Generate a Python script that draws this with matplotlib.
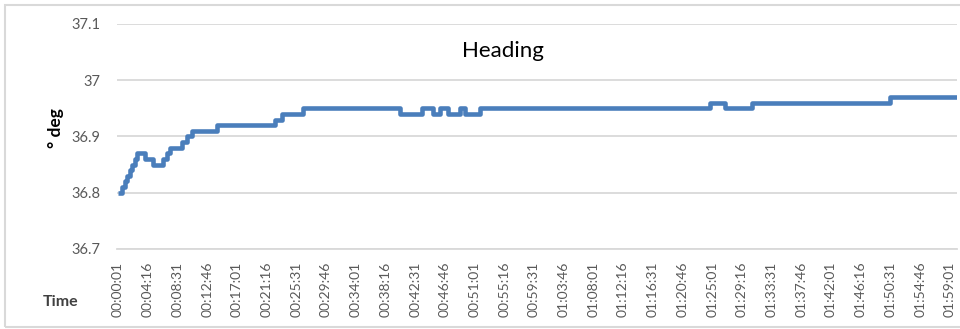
import matplotlib
matplotlib.use('Agg')
import matplotlib.pyplot as plt
from matplotlib.patches import Rectangle
import numpy as np

# change points of the heading reading: seconds since 00:00:01, value in deg
change_sec = [0, 34, 56, 77, 99, 120, 142, 163, 232, 300, 386, 421, 446, 549, 592,
              635, 850, 1347, 1408, 1588, 2420, 2609, 2704, 2764, 2832, 2935, 2978,
              3107, 5081, 5210, 5442, 6626, 7201]
heading = [36.80, 36.81, 36.82, 36.83, 36.84, 36.85, 36.86, 36.87, 36.86, 36.85, 36.86,
           36.87, 36.88, 36.89, 36.90, 36.91, 36.92, 36.93, 36.94, 36.95, 36.94, 36.95,
           36.94, 36.95, 36.94, 36.95, 36.94, 36.95, 36.96, 36.95, 36.96, 36.97, 36.97]

tick_step = 255  # one label every 4:15
tick_sec = list(range(0, 7141, tick_step))
tick_labels = []
for s in tick_sec:
    t = s + 1
    tick_labels.append(f"{t // 3600:02d}:{(t % 3600) // 60:02d}:{t % 60:02d}")

plt.rcParams['font.family'] = ['Lato', 'DejaVu Sans']

fig = plt.figure(figsize=(9.6, 3.29), dpi=100)
ax = fig.add_axes([117 / 960, 1 - 249 / 329, (957 - 117) / 960, (249 - 24) / 329])

ax.step(change_sec, heading, where='post', color='#4A7EBB', lw=3.3,
        solid_joinstyle='round', solid_capstyle='butt', zorder=3)

ax.set_ylim(36.7, 37.1)
ax.set_yticks([36.7, 36.8, 36.9, 37.0, 37.1])
ax.set_yticklabels(['36.7', '36.8', '36.9', '37', '37.1'])
ax.set_xlim(-9, 7201)
ax.set_xticks(tick_sec)
ax.set_xticklabels(tick_labels, rotation=90)

ax.grid(axis='y', color='#D9D9D9', lw=1.3)
ax.set_axisbelow(True)
for sp in ['top', 'right', 'left']:
    ax.spines[sp].set_visible(False)
ax.spines['bottom'].set_color('#D9D9D9')
ax.spines['bottom'].set_linewidth(1.3)
ax.tick_params(axis='both', length=0, colors='#595959', labelsize=10)
ax.tick_params(axis='y', pad=12, labelsize=10.5)
ax.tick_params(axis='x', pad=9)

ax.text(0.459, 0.88, 'Heading', transform=ax.transAxes, ha='center', va='center',
        fontsize=16, color='black')

fig.text(56 / 960, 1 - 128 / 329, '° deg', rotation=90, ha='center', va='center',
         fontsize=12.5, fontweight='bold', color='black')
fig.text(61 / 960, 1 - 302 / 329, 'Time', ha='center', va='center',
         fontsize=11.5, fontweight='bold', color='#404040')

fig.patches.append(Rectangle((5 / 960, 1 - 327 / 329), 2, 322 / 329,
                             transform=fig.transFigure, fill=False,
                             edgecolor='#D9D9D9', lw=1.5))

fig.savefig('out.png', dpi=100)
plt.close(fig)
